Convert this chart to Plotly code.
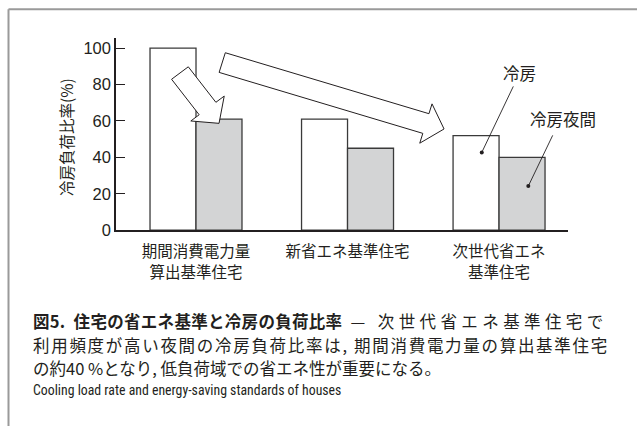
import plotly.graph_objects as go

# ---- data -------------------------------------------------------------
categories = ["期間消費電力量<br>算出基準住宅", "新省エネ基準住宅", "次世代省エネ<br>基準住宅"]
cooling = [100, 61, 52]          # 冷房
night_cooling = [61, 45, 40]     # 冷房夜間
y_ticks = [0, 20, 40, 60, 80, 100]

# ---- layout constants ---------------------------------------------------
W, H = 637, 435
X_DOMAIN = [116 / W, 568 / W]
Y_DOMAIN = [(H - 235) / H, (H - 39) / H]
X_RANGE = [-0.528, 2.455]
Y_RANGE = [0, 105.5]

PX_X = (X_DOMAIN[1] - X_DOMAIN[0]) * W / (X_RANGE[1] - X_RANGE[0])
PX_Y = (Y_DOMAIN[1] - Y_DOMAIN[0]) * H / (Y_RANGE[1] - Y_RANGE[0])

CJK = "Noto Sans CJK JP"
SANS = "Liberation Sans, Noto Sans CJK JP"
NARROW = "Liberation Sans Narrow, Roboto Condensed, Liberation Sans"
INK = "#231f20"
x_pos = list(range(len(categories)))


def block_arrow(tail, tip, shaft_half=10.5, head_half=21.0, head_len=19.0):
    """Outlined block arrow as an SVG path in data coordinates."""
    tx, ty = tail[0] * PX_X, tail[1] * PX_Y
    hx, hy = tip[0] * PX_X, tip[1] * PX_Y
    dx, dy = hx - tx, hy - ty
    n = (dx * dx + dy * dy) ** 0.5
    ux, uy = dx / n, dy / n
    px, py = -uy, ux
    bx, by = hx - ux * head_len, hy - uy * head_len
    pts = [
        (tx + px * shaft_half, ty + py * shaft_half),
        (bx + px * shaft_half, by + py * shaft_half),
        (bx + px * head_half, by + py * head_half),
        (hx, hy),
        (bx - px * head_half, by - py * head_half),
        (bx - px * shaft_half, by - py * shaft_half),
        (tx - px * shaft_half, ty - py * shaft_half),
    ]
    segs = [f"{x / PX_X:.4f},{y / PX_Y:.4f}" for x, y in pts]
    return "M " + " L ".join(segs) + " Z"


fig = go.Figure()
fig.add_trace(go.Bar(
    x=x_pos, y=cooling, name="冷房",
    marker=dict(color="white", line=dict(color="#3a3a3a", width=1.3)),
))
fig.add_trace(go.Bar(
    x=x_pos, y=night_cooling, name="冷房夜間",
    marker=dict(color="#d3d4d5", line=dict(color="#3a3a3a", width=1.3)),
))

# leader lines with dots pointing into the third pair of bars
leaders = [((2.094, 79.0), (1.886, 42.7)), ((2.354, 52.1), (2.193, 24.2))]
for (x0, y0), (x1, y1) in leaders:
    fig.add_trace(go.Scatter(
        x=[x0, x1], y=[y0, y1], mode="lines",
        line=dict(color=INK, width=0.9), hoverinfo="skip", showlegend=False,
    ))
    fig.add_trace(go.Scatter(
        x=[x1], y=[y1], mode="markers",
        marker=dict(color=INK, size=4), hoverinfo="skip", showlegend=False,
    ))

shapes = [
    dict(type="path", xref="x", yref="y", layer="above",
         path=block_arrow((-0.106, 86.35), (0.152, 58.7)),
         fillcolor="white", line=dict(color=INK, width=1)),
    dict(type="path", xref="x", yref="y", layer="above",
         path=block_arrow((0.173, 92.1), (1.637, 55.6)),
         fillcolor="white", line=dict(color=INK, width=1)),
    # frame around the figure panel
    dict(type="line", xref="paper", yref="paper",
         x0=8.5 / W, x1=1, y0=1 - 9.5 / H, y1=1 - 9.5 / H,
         line=dict(color="#9a9a9a", width=2)),
    dict(type="line", xref="paper", yref="paper",
         x0=8.5 / W, x1=8.5 / W, y0=0, y1=1 - 9.5 / H,
         line=dict(color="#9a9a9a", width=2)),
]

annotations = [
    dict(x=2.132, y=86.2, xref="x", yref="y", text="冷房", showarrow=False,
         font=dict(family=CJK, size=16.5, color=INK)),
    dict(x=2.422, y=61.0, xref="x", yref="y", text="冷房夜間", showarrow=False,
         font=dict(family=CJK, size=16.5, color=INK)),
    dict(x=66 / W, y=1 - 140 / H, xref="paper", yref="paper",
         xanchor="center", yanchor="middle",
         text="冷房負荷比率(%)", textangle=-90, showarrow=False,
         font=dict(family=CJK, size=15.5, color=INK)),
]

# ---- caption (first two lines set justified via letter spacing) -----------
LEFT = 31
caption_lines = [
    ('<span style="letter-spacing:0.3px"><b>図5.  住宅の省エネ基準と冷房の負荷比率</b></span>'
     '<span style="letter-spacing:4.4px"> — 次世代省エネ基準住宅で</span>', 328),
    ('<span style="letter-spacing:1.7px">'
     '利用頻度が高い夜間の冷房負荷比率は, 期間消費電力量の算出基準住宅</span>', 352),
    ("の約40 %となり, 低負荷域での省エネ性が重要になる。", 376),
]
caption_en = "Cooling load rate and energy-saving standards of houses"

for text, y_px in caption_lines:
    annotations.append(dict(
        x=LEFT / W, y=1 - y_px / H, xref="paper", yref="paper", text=text,
        xanchor="left", yanchor="middle", align="left", showarrow=False,
        font=dict(family=CJK, size=16.5, color=INK),
    ))
annotations.append(dict(
    x=LEFT / W, y=1 - 398 / H, xref="paper", yref="paper", text=caption_en,
    xanchor="left", yanchor="middle", showarrow=False,
    font=dict(family=NARROW, size=13.8, color=INK),
))

fig.update_layout(
    width=W, height=H,
    margin=dict(l=0, r=0, t=0, b=0),
    paper_bgcolor="white", plot_bgcolor="white",
    barmode="group", bargap=0.393, bargroupgap=0,
    showlegend=False,
    shapes=shapes, annotations=annotations,
    xaxis=dict(
        domain=X_DOMAIN, range=X_RANGE, tickvals=x_pos, ticktext=categories,
        showgrid=False, zeroline=False, showline=True,
        linecolor=INK, linewidth=1.5, ticks="", ticklabelstandoff=7,
        tickfont=dict(family=CJK, size=15.5, color=INK),
    ),
    yaxis=dict(
        domain=Y_DOMAIN, range=Y_RANGE, tickvals=y_ticks,
        showgrid=False, zeroline=False, showline=True,
        linecolor=INK, linewidth=1.5,
        ticks="inside", ticklen=9, tickcolor=INK, tickwidth=1,
        tickfont=dict(family=SANS, size=16.5, color=INK),
    ),
)

fig.write_html("out.html")
